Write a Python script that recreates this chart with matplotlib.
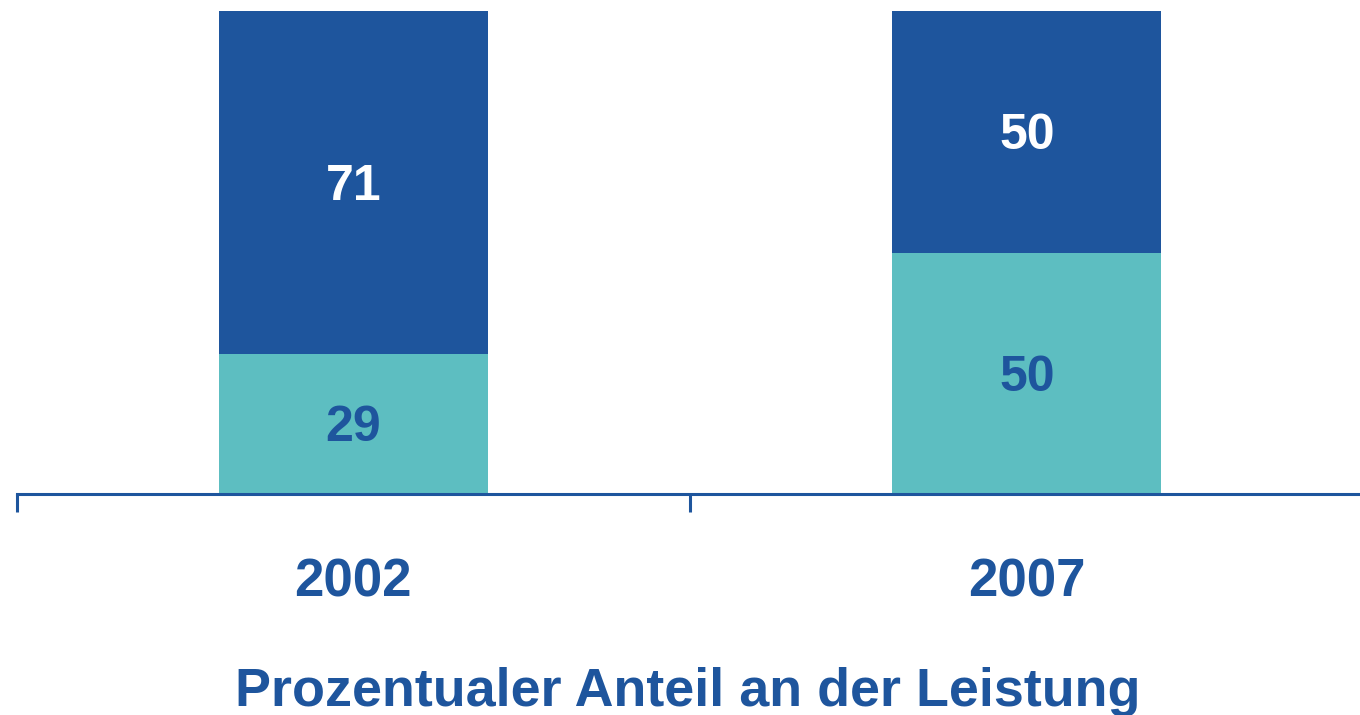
import matplotlib
matplotlib.use("Agg")
from matplotlib import pyplot as plt
import numpy as np

years = ["2002", "2007"]
share_low = [29, 50]
share_high = [71, 50]
title = "Prozentualer Anteil an der Leistung"

dark = "#1e559d"
teal = "#5dbec1"

plt.rcParams['font.family'] = ['Liberation Sans', 'DejaVu Sans']

fig = plt.figure(figsize=(13.6, 7.15), dpi=100)
ax = fig.add_axes([16.5 / 1360, 221 / 715, 1343.5 / 1360, (494 - 11) / 715])

x = np.arange(len(years))
w = 0.4
ax.bar(x, share_low, w, color=teal)
ax.bar(x, share_high, w, bottom=share_low, color=dark)

# small downward nudge so digits sit optically centred
dy = 0.9
for i in range(len(years)):
    ax.text(x[i], share_low[i] / 2 - dy, str(share_low[i]), ha='center', va='center',
            color=dark, fontsize=36, fontweight='bold')
    ax.text(x[i], share_low[i] + share_high[i] / 2 - dy, str(share_high[i]), ha='center', va='center',
            color='white', fontsize=36, fontweight='bold')
    ax.text(x[i], -18.3, years[i], ha='center', va='center',
            color=dark, fontsize=38, fontweight='bold')

ax.set_xlim(-0.5, -0.5 + 1343.5 / 673.5)
ax.set_ylim(0, 100)
for s in ['top', 'right', 'left']:
    ax.spines[s].set_visible(False)
ax.spines['bottom'].set_color(dark)
ax.spines['bottom'].set_linewidth(2.2)
ax.set_yticks([])
ax.set_xticks([-0.5, 0.5])
ax.set_xticklabels([])
ax.tick_params(axis='x', length=13, width=2.2, color=dark, direction='out')

fig.text(687.5 / 1360, 1 - 692 / 715, title, ha='center', va='center',
         color=dark, fontsize=38.8, fontweight='bold')

fig.savefig("out.png", dpi=100)
